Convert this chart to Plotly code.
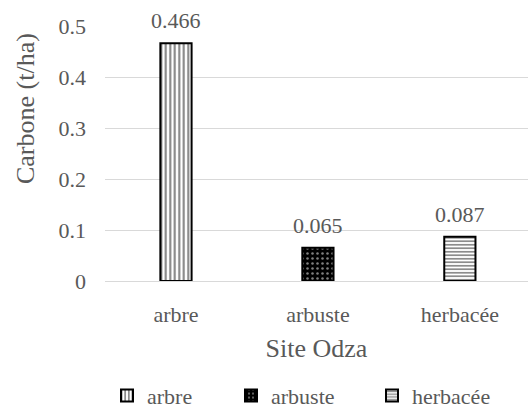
import plotly.graph_objects as go

categories = ["arbre", "arbuste", "herbacée"]
values = [0.466, 0.065, 0.087]
labels = ["0.466", "0.065", "0.087"]
y_ticks = [0, 0.1, 0.2, 0.3, 0.4, 0.5]
y_tick_text = ["0", "0.1", "0.2", "0.3", "0.4", "0.5"]

patterns = [
    dict(shape="|", fgcolor="black", bgcolor="white", size=4.5, solidity=0.45),
    dict(shape=".", fgcolor="white", bgcolor="black", size=5, solidity=0.2),
    dict(shape="-", fgcolor="black", bgcolor="white", size=3.5, solidity=0.45),
]
legend_ids = ["legend", "legend2", "legend3"]

FONT = "Liberation Serif"
GREY = "#595959"
GRID = "#d9d9d9"

fig = go.Figure()
for cat, val, pat, lg in zip(categories, values, patterns, legend_ids):
    fig.add_trace(go.Bar(
        x=[cat], y=[val], name=cat, legend=lg,
        marker=dict(color="white", pattern=pat,
                    line=dict(color="black", width=2)),
        width=0.22, offsetgroup="g",
    ))

# value labels sit a little above each bar top
for cat, val, lab in zip(categories, values, labels):
    fig.add_annotation(
        x=cat, y=val, text=lab, showarrow=False,
        xanchor="center", yanchor="bottom", yshift=8,
        font=dict(family=FONT, size=22, color=GREY),
    )

# one legend box per entry so each item can sit at its own spot
plot_left, plot_w = 105, 423
legend_px = [107, 231, 372]
leg_common = dict(orientation="h", y=-0.45, yanchor="middle", xanchor="left",
                  font=dict(family=FONT, size=22, color=GREY),
                  itemclick=False, bgcolor="rgba(0,0,0,0)")
legends = {}
for lg, px in zip(legend_ids, legend_px):
    legends[lg] = dict(leg_common, x=(px - plot_left) / plot_w)

fig.update_layout(
    width=528, height=417,
    margin=dict(l=plot_left, r=528 - plot_left - plot_w, t=26, b=130),
    plot_bgcolor="white", paper_bgcolor="white",
    font=dict(family=FONT, size=22, color=GREY),
    barmode="overlay",
    showlegend=True,
    xaxis=dict(
        categoryorder="array", categoryarray=categories,
        range=[-0.5, 2.48],
        showgrid=False, showline=True, linecolor=GRID, linewidth=1,
        ticks="", ticklabelstandoff=14,
        tickfont=dict(family=FONT, size=22, color=GREY),
        title=dict(text="Site Odza", font=dict(family=FONT, size=26, color=GREY), standoff=12),
    ),
    yaxis=dict(
        range=[0, 0.5], tickvals=y_ticks, ticktext=y_tick_text,
        showgrid=True, gridcolor=GRID, gridwidth=1,
        zeroline=False, showline=False, ticks="",
        tickfont=dict(family=FONT, size=22, color=GREY), ticklabelstandoff=18,
    ),
    **legends,
)

fig.add_annotation(
    text="Carbone (t/ha)", textangle=-90,
    xref="paper", yref="paper", x=(25 - plot_left) / plot_w, y=(287 - 111) / 261,
    xanchor="center", yanchor="middle", showarrow=False,
    font=dict(family=FONT, size=26, color=GREY),
)

fig.write_html("out.html")
